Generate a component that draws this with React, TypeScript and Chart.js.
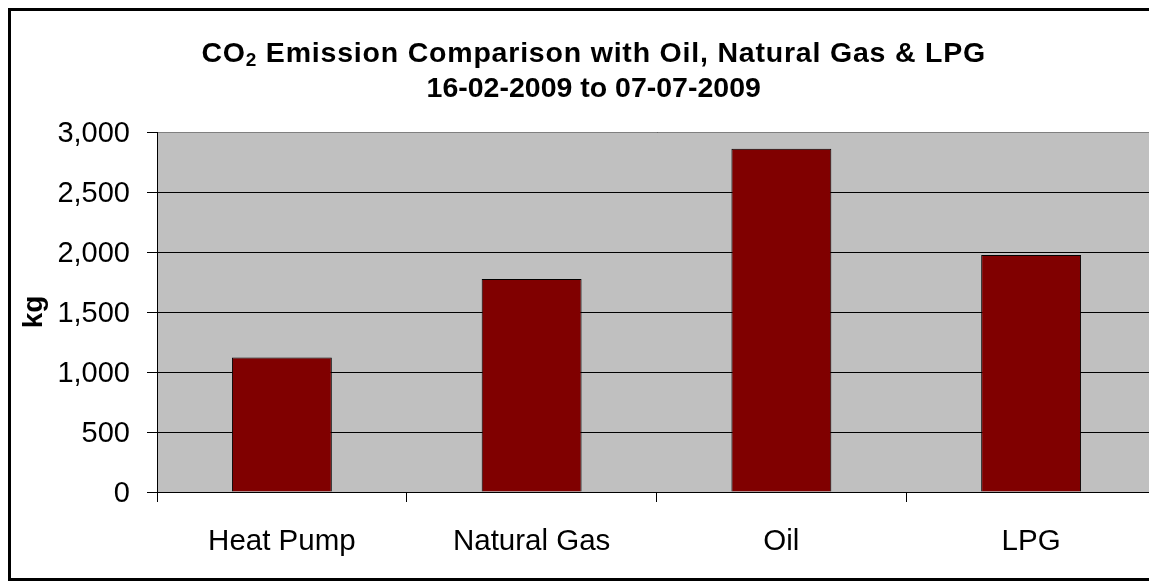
import { useEffect, useRef } from "react";
import { Chart, registerables } from "chart.js";

Chart.register(...registerables);

// ---- data ----
const categories = ["Heat Pump", "Natural Gas", "Oil", "LPG"];
const emissionsKg = [1120, 1775, 2860, 1975];
const titleMain = "CO";
const titleSub = "2";
const titleRest = " Emission Comparison with Oil, Natural Gas & LPG";
const titleLine2 = "16-02-2009 to 07-07-2009";
const yAxisTitle = "kg";
const yMin = 0;
const yMax = 3000;
const yStep = 500;

const W = 1172;
const H = 573;
const FONT = "'Liberation Sans', Arial, sans-serif";

const decorPlugin = {
  id: "decor",
  beforeDraw(chart: any) {
    const { ctx, chartArea } = chart;
    ctx.save();
    ctx.fillStyle = "#ffffff";
    ctx.fillRect(0, 0, chart.width, chart.height);
    ctx.fillStyle = "#c0c0c0";
    ctx.fillRect(
      chartArea.left,
      chartArea.top,
      chartArea.right - chartArea.left,
      chartArea.bottom - chartArea.top
    );
    ctx.restore();
  },
  afterDraw(chart: any) {
    const { ctx, chartArea } = chart;
    ctx.save();
    // plot area grey border (top & right)
    ctx.strokeStyle = "#808080";
    ctx.lineWidth = 1;
    ctx.beginPath();
    ctx.moveTo(chartArea.left + 1, chartArea.top + 0.5);
    ctx.lineTo(chartArea.right + 0.5, chartArea.top + 0.5);
    ctx.lineTo(chartArea.right + 0.5, chartArea.bottom);
    ctx.stroke();

    // outer chart border
    ctx.strokeStyle = "#000000";
    ctx.lineWidth = 3;
    ctx.strokeRect(1.5, 1.5, W - 3, 570);

    // title
    ctx.fillStyle = "#000000";
    ctx.textBaseline = "alphabetic";
    ctx.textAlign = "left";
    const cx = 585.7;
    (ctx as any).letterSpacing = "0.8px";
    ctx.font = `bold 28.5px ${FONT}`;
    const w1 = ctx.measureText(titleMain).width;
    const w3 = ctx.measureText(titleRest).width;
    ctx.font = `bold 19px ${FONT}`;
    const w2 = ctx.measureText(titleSub).width;
    let x = cx - (w1 + w2 + w3) / 2;
    ctx.font = `bold 28.5px ${FONT}`;
    ctx.fillText(titleMain, x, 54);
    x += w1;
    ctx.font = `bold 19px ${FONT}`;
    ctx.fillText(titleSub, x, 58);
    x += w2;
    ctx.font = `bold 28.5px ${FONT}`;
    ctx.fillText(titleRest, x, 54);

    (ctx as any).letterSpacing = "0px";
    ctx.textAlign = "center";
    ctx.fillText(titleLine2, cx, 89);
    ctx.restore();
  },
};

export default function App() {
  const ref = useRef<HTMLCanvasElement | null>(null);

  useEffect(() => {
    if (!ref.current) return;
    Chart.defaults.font.family = FONT;
    const chart = new Chart(ref.current, {
      type: "bar",
      data: {
        labels: categories,
        datasets: [
          {
            data: emissionsKg,
            backgroundColor: "#800000",
            borderColor: "#000000",
            borderWidth: 1,
            barPercentage: 0.4,
            categoryPercentage: 1,
          },
        ],
      },
      options: {
        responsive: false,
        animation: false,
        layout: { padding: { top: 124, right: 24, left: 0, bottom: 0 } },
        plugins: {
          legend: { display: false },
          tooltip: { enabled: false },
          title: { display: false },
        },
        scales: {
          x: {
            offset: true,
            grid: {
              offset: true,
              drawOnChartArea: false,
              color: "#000000",
              tickLength: 10,
            },
            border: { display: true, color: "#000000" },
            ticks: {
              font: { size: 29.5, family: FONT },
              color: "#000000",
              padding: 22,
            },
            afterFit: (s: any) => {
              s.height = 89;
            },
          },
          y: {
            min: yMin,
            max: yMax,
            ticks: {
              stepSize: yStep,
              font: { size: 29, family: FONT },
              color: "#000000",
              padding: 17,
              labelOffset: 2,
              callback: (v: any) => Number(v).toLocaleString("en-US"),
            },
            grid: { color: "#000000", tickLength: 10, lineWidth: 1 },
            border: { display: true, color: "#000000" },
            title: {
              display: true,
              text: yAxisTitle,
              color: "#000000",
              font: { size: 28, weight: "bold", family: FONT },
              padding: { top: 9, bottom: 0 },
            },
            afterFit: (s: any) => {
              s.width = 149;
            },
          },
        },
      },
      plugins: [decorPlugin],
    });
    return () => chart.destroy();
  }, []);

  return (
    <div style={{ width: 1149, height: H, overflow: "hidden" }}>
      <style>{`html,body{overflow:hidden}`}</style>
      <canvas
        ref={ref}
        width={W}
        height={H}
        style={{ display: "block", width: W, height: H }}
      />
    </div>
  );
}
